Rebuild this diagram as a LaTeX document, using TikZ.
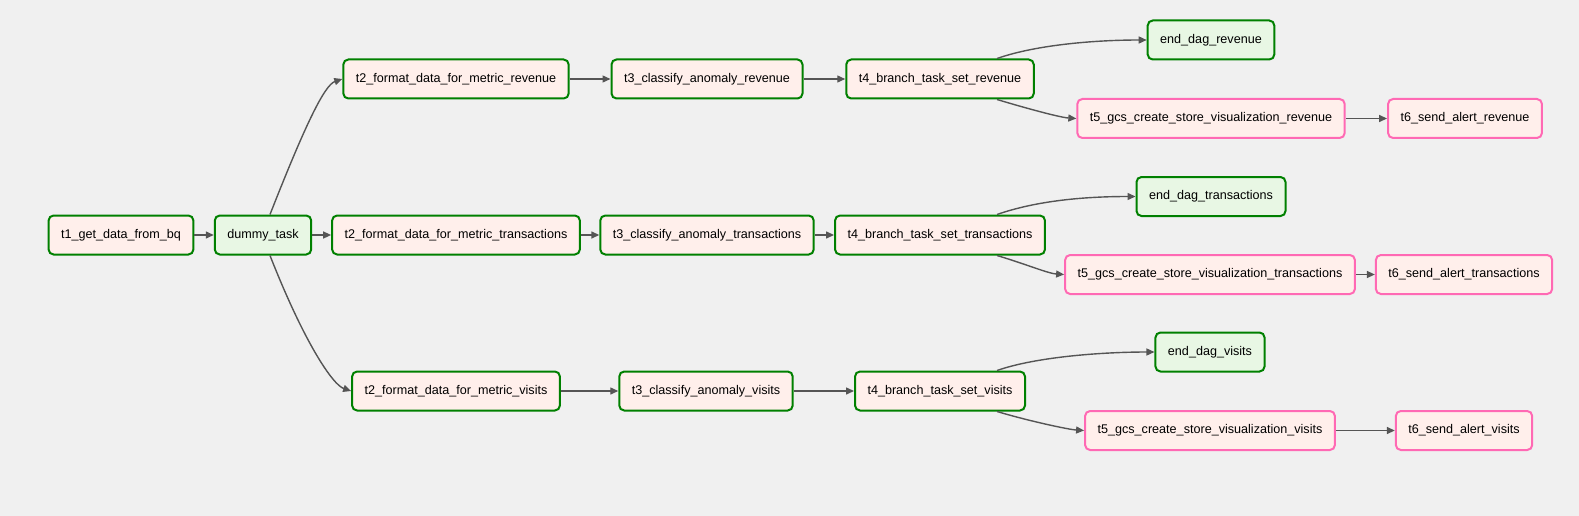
\documentclass[tikz,border=0pt]{standalone}
\usepackage{fontspec}
\setmainfont{Liberation Sans}
\usetikzlibrary{arrows.meta}
\definecolor{bg}{HTML}{F0F0F0}
\definecolor{okgreen}{HTML}{008000}
\definecolor{skip}{HTML}{FF69B4}
\definecolor{pyfill}{HTML}{FFEFEB}
\definecolor{dumfill}{HTML}{E8F7E4}
\definecolor{edgecol}{HTML}{555555}
\begin{document}
\begin{tikzpicture}[x=1pt,y=-1pt,
 task/.style={draw=okgreen, line width=2pt, rounded corners=5pt, fill=pyfill,
   minimum height=39pt, inner xsep=12.5pt, inner ysep=0pt,
   font=\fontsize{12.6}{15}\selectfont, text=black},
 dum/.style={task, fill=dumfill},
 skipped/.style={task, draw=skip},
 conn/.style={draw=edgecol, line width=1.4pt, -{Triangle[length=8pt,width=7pt]}}
]
\fill[bg] (0,0) rectangle (1579,516);
\useasboundingbox (0,0) rectangle (1579,516);

% row 2 (transactions) + start
\node[task] (t1) at (121,235) {t1\_get\_data\_from\_bq};
\node[dum] (dummy) at (263,235) {dummy\_task};
\node[task] (t2t) at (456,235) {t2\_format\_data\_for\_metric\_transactions};
\node[task] (t3t) at (707,235) {t3\_classify\_anomaly\_transactions};
\node[task] (t4t) at (940,235) {t4\_branch\_task\_set\_transactions};
\node[dum] (endt) at (1211,196.5) {end\_dag\_transactions};
\node[skipped] (t5t) at (1210,274.5) {t5\_gcs\_create\_store\_visualization\_transactions};
\node[skipped] (t6t) at (1464,274.5) {t6\_send\_alert\_transactions};

% row 1 (revenue)
\node[task] (t2r) at (456,79) {t2\_format\_data\_for\_metric\_revenue};
\node[task] (t3r) at (707,79) {t3\_classify\_anomaly\_revenue};
\node[task] (t4r) at (940,79) {t4\_branch\_task\_set\_revenue};
\node[dum] (endr) at (1211,40) {end\_dag\_revenue};
\node[skipped] (t5r) at (1211,118.5) {t5\_gcs\_create\_store\_visualization\_revenue};
\node[skipped] (t6r) at (1465,118.5) {t6\_send\_alert\_revenue};

% row 3 (visits)
\node[task] (t2v) at (456,391) {t2\_format\_data\_for\_metric\_visits};
\node[task] (t3v) at (706,391) {t3\_classify\_anomaly\_visits};
\node[task] (t4v) at (940,391) {t4\_branch\_task\_set\_visits};
\node[dum] (endv) at (1210,352) {end\_dag\_visits};
\node[skipped] (t5v) at (1210,430.5) {t5\_gcs\_create\_store\_visualization\_visits};
\node[skipped] (t6v) at (1464,430.5) {t6\_send\_alert\_visits};

% edges
\draw[conn] (t1) -- (dummy);
\draw[conn] (dummy) -- (t2t);
\draw[conn] ([xshift=7pt]dummy.north) .. controls +(35,-89) and +(-18,6) .. (t2r.west);
\draw[conn] ([xshift=7pt]dummy.south) .. controls +(35,89) and +(-18,-6) .. (t2v.west);

\foreach \r in {r,t,v}{
  \draw[conn] (t2\r) -- (t3\r);
  \draw[conn] (t3\r) -- (t4\r);
  \draw[conn] ([xshift=57pt]t4\r.north) .. controls +(40,-14) and +(-50,0) .. (end\r.west);
  \draw[conn] ([xshift=57pt]t4\r.south) .. controls +(30,9) and +(-16,-1) .. (t5\r.west);
  \draw[conn] (t5\r) -- (t6\r);
}
\end{tikzpicture}
\end{document}
